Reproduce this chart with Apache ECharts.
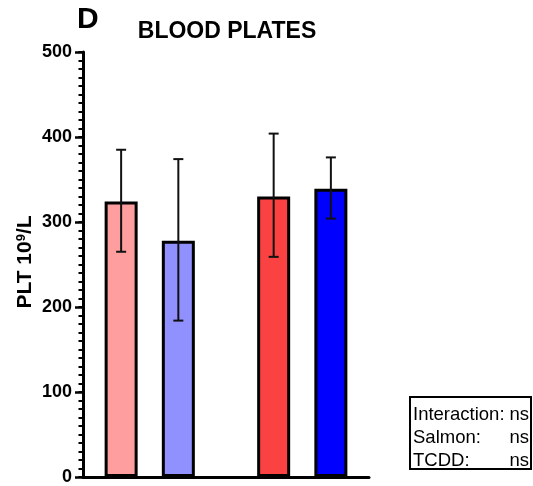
<!DOCTYPE html>
<html><head><meta charset="utf-8">
<script src="https://cdn.jsdelivr.net/npm/echarts@6/dist/echarts.min.js"></script>
<style>html,body{margin:0;padding:0;background:#fff}#c{width:533px;height:486px}</style>
</head><body><div id="c"></div>
<script>
// slots along the x axis (blank slots give the group spacing)
const categories = ['', '', 'Ctrl', '', '', 'Salmon', '', '', '', '', 'TCDD', '', '', 'TCDD+Salmon', '', ''];
const meanValues = [null, null, 324, null, null, 278, null, null, null, null, 330, null, null, 339, null, null];
const errHigh    = [null, null, 385, null, null, 374, null, null, null, null, 404, null, null, 376, null, null];
const errLow     = [null, null, 265, null, null, 184, null, null, null, null, 259, null, null, 304, null, null];
const barColors  = [null, null, '#FF9E9E', null, null, '#9090FF', null, null, null, null, '#FB4242', null, null, '#0000FF', null, null];
const yTicks = [0, 100, 200, 300, 400, 500];
const statLines = [['Interaction:', 'ns'], ['Salmon:', 'ns'], ['TCDD:', 'ns']];

const FONT = 'Arial, "Liberation Sans", sans-serif';
const chart = echarts.init(document.getElementById('c'), null, {renderer: 'canvas'});

const barData = meanValues.map((v, i) => v == null ? null : {value: v, itemStyle: {color: barColors[i]}});
const errData = [];
meanValues.forEach((v, i) => { if (v != null) errData.push([i, errLow[i], errHigh[i]]); });

const yMin = yTicks[0], yMax = yTicks[yTicks.length - 1];

chart.setOption({
  animation: false,
  backgroundColor: '#fff',
  grid: {left: 83, top: 52, bottom: 8, right: 164, containLabel: false},
  xAxis: {
    type: 'category', data: categories, boundaryGap: false,
    axisLine: {show: true, lineStyle: {color: '#000', width: 3}},
    axisTick: {show: false}, axisLabel: {show: false}, splitLine: {show: false}
  },
  yAxis: [
    {
      type: 'value', min: yMin, max: yMax, interval: 100,
      axisLine: {show: true, lineStyle: {color: '#000', width: 3}},
      axisTick: {show: true, length: 8, lineStyle: {color: '#000', width: 2.5}},
      axisLabel: {color: '#000', fontSize: 18, fontWeight: 'bold', fontFamily: FONT, margin: 11},
      splitLine: {show: false}, z: 3
    },
    {
      type: 'value', min: yMin, max: yMax, interval: 10, position: 'left', offset: 0,
      axisLine: {show: false},
      axisTick: {show: true, length: 4.5, lineStyle: {color: '#000', width: 2}},
      axisLabel: {show: false}, splitLine: {show: false}, z: 2
    }
  ],
  series: [
    {
      type: 'bar', data: barData, barWidth: 33,
      itemStyle: {borderColor: '#000', borderWidth: 3},
      z: 2
    },
    {
      type: 'custom', data: errData, z: 5,
      renderItem: function (params, api) {
        const x = api.value(0);
        const lo = api.coord([x, api.value(1)]);
        const hi = api.coord([x, api.value(2)]);
        const w = 5;
        const style = {stroke: '#111', lineWidth: 2};
        return {type: 'group', children: [
          {type: 'line', shape: {x1: lo[0], y1: lo[1], x2: hi[0], y2: hi[1]}, style: style},
          {type: 'line', shape: {x1: hi[0] - w, y1: hi[1], x2: hi[0] + w, y2: hi[1]}, style: style},
          {type: 'line', shape: {x1: lo[0] - w, y1: lo[1], x2: lo[0] + w, y2: lo[1]}, style: style}
        ]};
      }
    }
  ],
  graphic: [
    {type: 'text', left: 77, top: 5, style: {text: 'D', font: 'bold 30px ' + FONT, fill: '#000'}},
    {type: 'text', x: 227, y: 32, style: {text: 'BLOOD PLATES', font: 'bold 23px ' + FONT, fill: '#000', align: 'center', verticalAlign: 'middle'}},
    {type: 'text', x: 25, y: 262, rotation: Math.PI / 2,
      style: {text: 'PLT 10{sup|9}/L', font: 'bold 21px ' + FONT, fill: '#000', align: 'center', verticalAlign: 'middle',
        rich: {sup: {fontSize: 13, fontWeight: 'bold', fontFamily: FONT, verticalAlign: 'top', padding: [0, 0, 8, 0]}}}},
    {type: 'rect', shape: {x: 410, y: 397, width: 121, height: 72}, style: {fill: '#fff', stroke: '#000', lineWidth: 2}},
    ...statLines.map((l, i) => ({type: 'text', x: 413, y: 415 + i * 23, style: {text: l[0], font: '18.5px ' + FONT, fill: '#000', verticalAlign: 'middle'}})),
    ...statLines.map((l, i) => ({type: 'text', x: 529, y: 415 + i * 23, style: {text: l[1], font: '18.5px ' + FONT, fill: '#000', align: 'right', verticalAlign: 'middle'}}))
  ]
});
</script></body></html>
